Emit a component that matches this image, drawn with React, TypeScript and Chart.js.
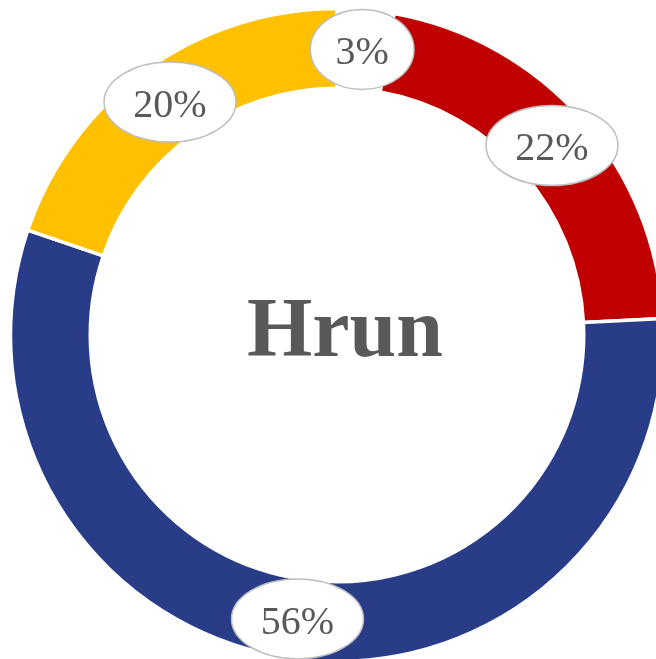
import React, { useEffect, useRef } from "react";
import { Chart, registerables } from "chart.js";

Chart.register(...registerables);

const categories = ["Other", "Red", "Blue", "Yellow"];
const values = [2.8, 21.4, 56.0, 19.8];
const valueLabels = ["3%", "22%", "56%", "20%"];
const colors = ["#FFFFFF", "#C00000", "#283C88", "#FFC000"];
const centerTitle = "Hrun";

const SERIF = "'Liberation Serif', 'Times New Roman', serif";

const labelPlugin = {
  id: "ellipseLabels",
  afterDatasetsDraw(chart: any) {
    const ctx = chart.ctx;
    const meta = chart.getDatasetMeta(0);
    ctx.save();
    meta.data.forEach((arc: any, i: number) => {
      const p = arc.getProps(["x", "y", "startAngle", "endAngle", "innerRadius", "outerRadius"], true);
      const mid = (p.startAngle + p.endAngle) / 2;
      const r = (p.innerRadius + p.outerRadius) / 2;
      const cx = p.x + Math.cos(mid) * r;
      const cy = p.y + Math.sin(mid) * r;
      ctx.font = `40px ${SERIF}`;
      const tw = ctx.measureText(valueLabels[i]).width;
      const w = (tw + 20) / 0.7071;
      const h = 80;
      ctx.beginPath();
      ctx.ellipse(cx, cy, w / 2, h / 2, 0, 0, Math.PI * 2);
      ctx.fillStyle = "#FFFFFF";
      ctx.fill();
      ctx.lineWidth = 1.5;
      ctx.strokeStyle = "#BDBDBD";
      ctx.stroke();
      ctx.fillStyle = "#595959";
      ctx.textAlign = "center";
      ctx.textBaseline = "alphabetic";
      ctx.fillText(valueLabels[i], cx, cy + 15);
    });
    const c = meta.data[0];
    ctx.font = `bold 84px ${SERIF}`;
    ctx.fillStyle = "#595959";
    ctx.textAlign = "center";
    ctx.textBaseline = "alphabetic";
    ctx.fillText(centerTitle, c.x + 8, c.y + 21);
    ctx.restore();
  },
};

export default function App() {
  const ref = useRef<HTMLCanvasElement | null>(null);
  useEffect(() => {
    if (!ref.current) return;
    const chart = new Chart(ref.current, {
      type: "doughnut",
      data: {
        labels: categories,
        datasets: [
          {
            data: values,
            backgroundColor: colors,
            borderColor: "#FFFFFF",
            borderWidth: 3.5,
            hoverOffset: 0,
          },
        ],
      },
      options: {
        responsive: false,
        animation: false,
        radius: 326.5,
        cutout: "75.57%",
        rotation: 0,
        layout: { padding: 0 },
        plugins: {
          legend: { display: false },
          tooltip: { enabled: false },
        },
      } as any,
      plugins: [labelPlugin],
    });
    return () => chart.destroy();
  }, []);
  return (
    <div
      style={{
        position: "fixed",
        left: 0,
        top: 0,
        width: 656,
        height: 659,
        overflow: "hidden",
        background: "#FFFFFF",
      }}
    >
      <canvas ref={ref} width={674} height={670} style={{ display: "block" }} />
    </div>
  );
}
